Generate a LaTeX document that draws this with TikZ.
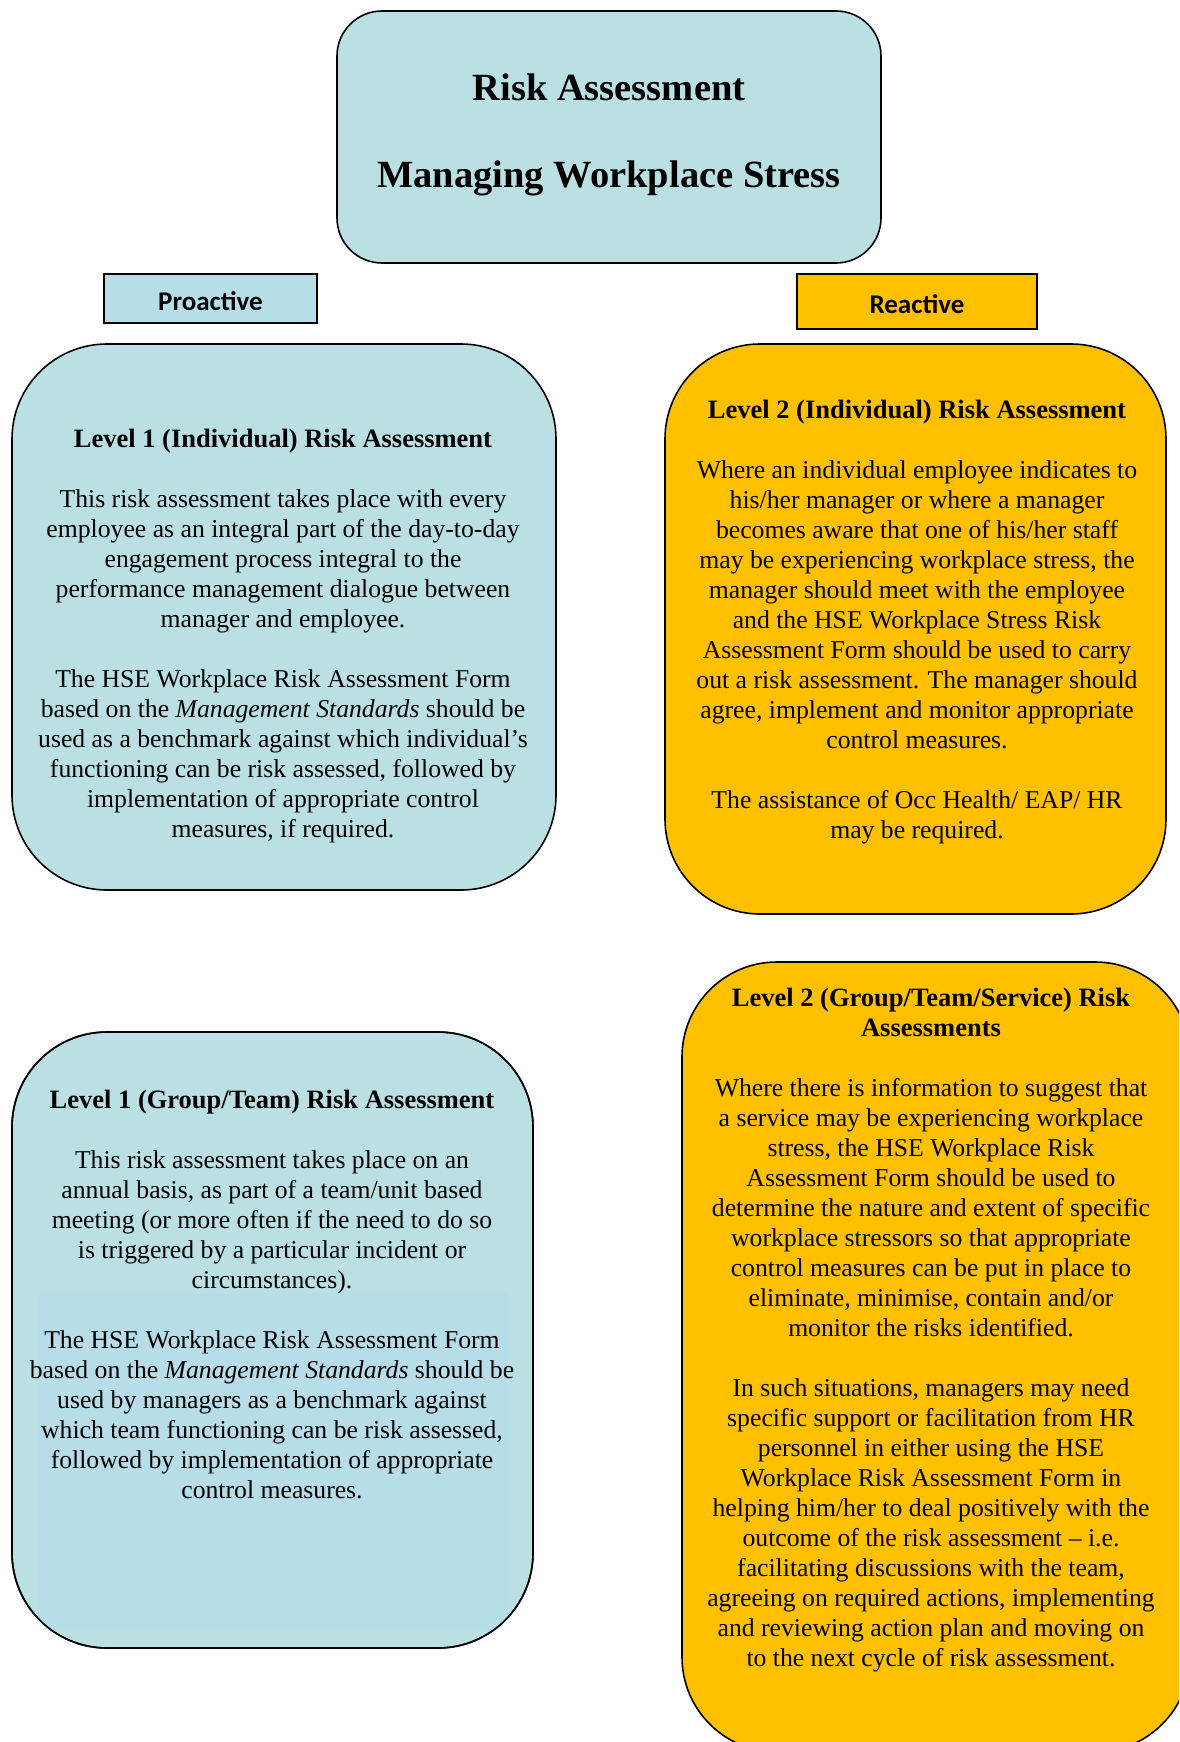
\documentclass[tikz,border=0pt]{standalone}
\usepackage{fontspec}
\setmainfont{Liberation Serif}
\newfontfamily\labelfont{Carlito}
\usetikzlibrary{backgrounds}
\definecolor{boxblue}{RGB}{186,224,228}
\definecolor{innerblue}{RGB}{183,221,232}
\definecolor{lblblue}{RGB}{183,222,232}
\definecolor{boxorange}{RGB}{255,192,0}
\newcommand{\hd}[1]{{\fontsize{26.5}{30}\selectfont\bfseries #1}}
\tikzset{
  roundbox/.style={draw=black, line width=1.6pt, rounded corners=#1, inner sep=0pt, outer sep=0pt, anchor=north west},
  roundbox/.default=95pt,
  labelbox/.style={draw=black, line width=2pt, inner sep=0pt, outer sep=0pt, anchor=north west, text height=23.5pt, text depth=0pt, font=\labelfont\bfseries\fontsize{27}{30}\selectfont},
  bodytext/.style={align=center, inner sep=0pt, font=\fontsize{25.7}{30}\selectfont},
  titletext/.style={inner sep=0pt, font=\bfseries\fontsize{38.5}{44}\selectfont},
  trunk/.style={draw=black, line cap=rect},
}
\begin{document}
\begin{tikzpicture}[x=1pt,y=-1pt]
\useasboundingbox (0,0) rectangle (1179,1742);
\clip (0,0) rectangle (1179,1742);
\fill[white] (0,0) rectangle (1179,1742);

% boxes
\node[roundbox=45pt, fill=boxblue, minimum width=544pt, minimum height=252pt] (title) at (337,11) {};
\node[titletext] (t1) at (609,87) {Risk Assessment};
\node[titletext] (t2) at (609,178) {Managing Workplace Stress};

\node[labelbox, fill=lblblue, minimum width=213pt, minimum height=49pt] (pro) at (104,274) {Proactive};
\node[labelbox, fill=boxorange, minimum width=240pt, minimum height=55pt] (rea) at (797,274) {Reactive};

\node[roundbox, fill=boxblue, minimum width=544pt, minimum height=546pt] (l1ind) at (12,344) {};
\node[roundbox, fill=boxorange, minimum width=501pt, minimum height=570pt] (l2ind) at (665,344) {};
\node[roundbox, fill=boxblue, minimum width=521pt, minimum height=616pt] (l1grp) at (12,1032) {};
\begin{scope}
\clip[rounded corners=95pt] (l1grp.north west) rectangle (l1grp.south east);
\fill[innerblue] (38,1293) rectangle (508,1631);
\end{scope}
\draw[line width=1.6pt, rounded corners=95pt] (l1grp.north west) rectangle (l1grp.south east);
\node[roundbox, fill=boxorange, minimum width=508pt, minimum height=790pt] (l2grp) at (682,962) {};

% connectors
\coordinate (j1) at (600,563);
\coordinate (j2) at (600,697);
\coordinate (j3) at (600,1155);
\coordinate (j4) at (600,1355);
\begin{scope}[on background layer]
\draw[trunk, line width=9pt] (title.south -| j1) -- (j2);
\draw[trunk, line width=7.5pt] (j2) -- (j3);
\draw[trunk, line width=5pt] (j3) -- (j4);
\draw[line width=6pt] (j1) -- (l1ind.east |- j1);
\draw[line width=6pt] (j2) -- (l2ind.west |- j2);
\draw[line width=5pt] (j3) -- (l1grp.east |- j3);
\draw[line width=5pt] (j4) -- (l2grp.west |- j4);
\end{scope}

% texts
\node[bodytext] (l1indtext) at (283,636) {\hd{Level 1 (Individual) Risk Assessment}\\[30pt]
This risk assessment takes place with every\\
employee as an integral part of the day-to-day\\
engagement process integral to the\\
performance management dialogue between\\
manager and employee.\\[30pt]
The HSE Workplace Risk Assessment Form\\
based on the \textit{Management Standards} should be\\
used as a benchmark against which individual’s\\
functioning can be risk assessed, followed by\\
implementation of appropriate control\\
measures, if required.};

\node[bodytext] (l2indtext) at (917,622) {\hd{Level 2 (Individual) Risk Assessment}\\[30pt]
Where an individual employee indicates to\\
his/her manager or where a manager\\
becomes aware that one of his/her staff\\
may be experiencing workplace stress, the\\
manager should meet with the employee\\
and the HSE Workplace Stress Risk\\
Assessment Form should be used to carry\\
out a risk assessment. The manager should\\
agree, implement and monitor appropriate\\
control measures.\\[30pt]
The assistance of Occ Health/ EAP/ HR\\
may be required.};

\node[bodytext] (l1grptext) at (272,1294) {\hd{Level 1 (Group/Team) Risk Assessment}\\[30pt]
This risk assessment takes place on an\\
annual basis, as part of a team/unit based\\
meeting (or more often if the need to do so\\
is triggered by a particular incident or\\
circumstances).\\[30pt]
The HSE Workplace Risk Assessment Form\\
based on the \textit{Management Standards} should be\\
used by managers as a benchmark against\\
which team functioning can be risk assessed,\\
followed by implementation of appropriate\\
control measures.};

\node[bodytext] (l2grptext) at (931,1330) {\hd{Level 2 (Group/Team/Service) Risk}\\
\hd{Assessments}\\[30pt]
Where there is information to suggest that\\
a service may be experiencing workplace\\
stress, the HSE Workplace Risk\\
Assessment Form should be used to\\
determine the nature and extent of specific\\
workplace stressors so that appropriate\\
control measures can be put in place to\\
eliminate, minimise, contain and/or\\
monitor the risks identified.\\[30pt]
In such situations, managers may need\\
specific support or facilitation from HR\\
personnel in either using the HSE\\
Workplace Risk Assessment Form in\\
helping him/her to deal positively with the\\
outcome of the risk assessment – i.e.\\
facilitating discussions with the team,\\
agreeing on required actions, implementing\\
and reviewing action plan and moving on\\
to the next cycle of risk assessment.};
\end{tikzpicture}
\end{document}
